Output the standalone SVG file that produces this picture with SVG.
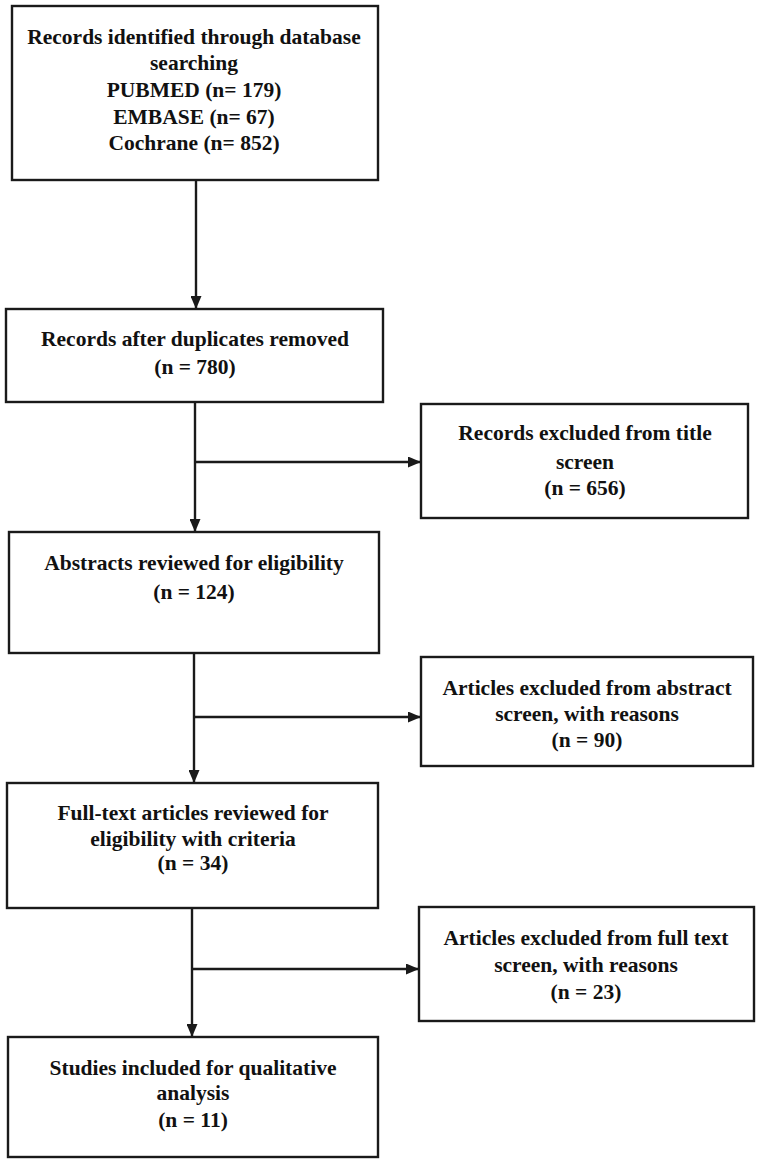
<svg xmlns="http://www.w3.org/2000/svg" width="761" height="1163" viewBox="0 0 761 1163">
<defs>
<style>
.box{fill:#fff;stroke:#1a1a1a;stroke-width:2.4}
.t{font-family:"Liberation Serif","Times New Roman",serif;font-weight:bold;font-size:21.5px;fill:#111;text-anchor:middle}
.c{fill:none;stroke:#1a1a1a;stroke-width:2.4}
</style>
<marker id="ah" markerWidth="13" markerHeight="11" refX="12" refY="5.5" orient="auto" markerUnits="userSpaceOnUse">
<path d="M0,0 L13,5.5 L0,11 Z" fill="#1a1a1a"/>
</marker>
</defs>
<rect width="761" height="1163" fill="#fff"/>
<g id="connectors">
<line class="c" x1="196" y1="180" x2="196" y2="308" marker-end="url(#ah)"/>
<line class="c" x1="195" y1="402" x2="195" y2="531" marker-end="url(#ah)"/>
<line class="c" x1="195" y1="462" x2="420" y2="462" marker-end="url(#ah)"/>
<line class="c" x1="194" y1="653" x2="194" y2="782" marker-end="url(#ah)"/>
<line class="c" x1="194" y1="717" x2="420" y2="717" marker-end="url(#ah)"/>
<line class="c" x1="192" y1="908" x2="192" y2="1036" marker-end="url(#ah)"/>
<line class="c" x1="192" y1="969" x2="418" y2="969" marker-end="url(#ah)"/>
</g>
<g id="n1">
<rect class="box" x="12" y="6" width="366" height="174"/>
<text class="t" x="194" y="44">Records identified through database</text>
<text class="t" x="194" y="70">searching</text>
<text class="t" x="194" y="97">PUBMED (n= 179)</text>
<text class="t" x="194" y="124">EMBASE (n= 67)</text>
<text class="t" x="194" y="150">Cochrane (n= 852)</text>
</g>
<g id="n2">
<rect class="box" x="6" y="309" width="377" height="93"/>
<text class="t" x="195" y="346">Records after duplicates removed</text>
<text class="t" x="195" y="374">(n = 780)</text>
</g>
<g id="n3">
<rect class="box" x="421" y="404" width="327" height="114"/>
<text class="t" x="585" y="440">Records excluded from title</text>
<text class="t" x="585" y="469">screen</text>
<text class="t" x="585" y="495">(n = 656)</text>
</g>
<g id="n4">
<rect class="box" x="9" y="532" width="370" height="121"/>
<text class="t" x="194" y="570">Abstracts reviewed for eligibility</text>
<text class="t" x="194" y="599">(n = 124)</text>
</g>
<g id="n5">
<rect class="box" x="421" y="657" width="332" height="109"/>
<text class="t" x="587" y="695">Articles excluded from abstract</text>
<text class="t" x="587" y="721">screen, with reasons</text>
<text class="t" x="587" y="747">(n = 90)</text>
</g>
<g id="n6">
<rect class="box" x="7" y="783" width="371" height="125"/>
<text class="t" x="193" y="820">Full-text articles reviewed for</text>
<text class="t" x="193" y="846">eligibility with criteria</text>
<text class="t" x="193" y="870">(n = 34)</text>
</g>
<g id="n7">
<rect class="box" x="419" y="907" width="335" height="114"/>
<text class="t" x="586" y="945">Articles excluded from full text</text>
<text class="t" x="586" y="972">screen, with reasons</text>
<text class="t" x="586" y="999">(n = 23)</text>
</g>
<g id="n8">
<rect class="box" x="8" y="1037" width="370" height="120"/>
<text class="t" x="193" y="1075">Studies included for qualitative</text>
<text class="t" x="193" y="1100">analysis</text>
<text class="t" x="193" y="1127">(n = 11)</text>
</g>
</svg>
